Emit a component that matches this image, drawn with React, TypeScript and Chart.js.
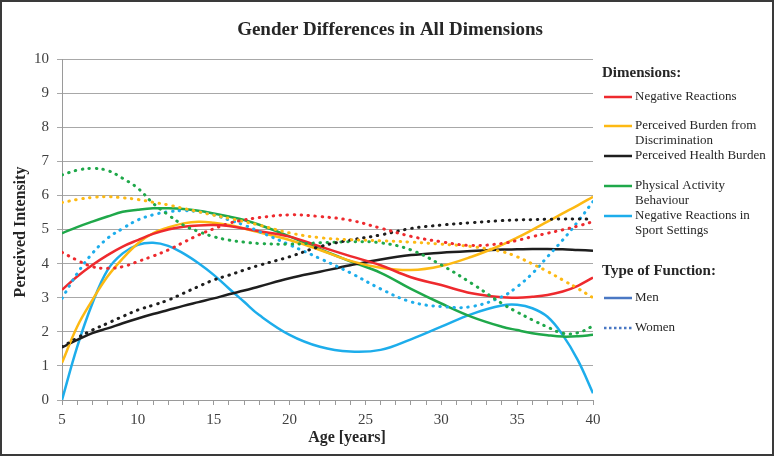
import React, { useEffect, useRef } from "react";
import { Chart, registerables } from "chart.js";

Chart.register(...registerables);

// ---- data ----
const ages = [5, 6, 7, 8, 9, 10, 11, 12, 13, 14, 15, 16, 17, 18, 20, 22, 24, 26, 28, 30, 32, 34, 35, 36, 37, 38, 39, 40];

const negativeReactionsMen = [3.23, 3.62, 3.96, 4.25, 4.5, 4.69, 4.87, 5.0, 5.08, 5.12, 5.13, 5.1, 5.03, 4.95, 4.79, 4.5, 4.22, 3.95, 3.6, 3.37, 3.13, 3.01, 3.0, 3.03, 3.08, 3.18, 3.35, 3.59];
const negativeReactionsWomen = [4.33, 4.1, 3.91, 3.86, 3.91, 4.06, 4.22, 4.4, 4.62, 4.84, 5.02, 5.18, 5.28, 5.35, 5.43, 5.38, 5.27, 5.04, 4.8, 4.64, 4.53, 4.59, 4.68, 4.79, 4.89, 4.99, 5.1, 5.23];
const burdenMen = [1.09, 2.15, 2.93, 3.62, 4.15, 4.59, 4.89, 5.06, 5.18, 5.23, 5.2, 5.13, 5.03, 4.92, 4.69, 4.4, 4.08, 3.88, 3.81, 3.93, 4.2, 4.55, 4.76, 4.99, 5.23, 5.47, 5.71, 5.96];
const burdenWomen = [5.79, 5.88, 5.94, 5.96, 5.93, 5.88, 5.8, 5.72, 5.62, 5.52, 5.42, 5.33, 5.23, 5.13, 4.9, 4.76, 4.7, 4.67, 4.63, 4.57, 4.5, 4.35, 4.2, 3.99, 3.77, 3.52, 3.27, 3.0];
const healthMen = [1.54, 1.76, 1.96, 2.1, 2.25, 2.39, 2.52, 2.64, 2.76, 2.87, 2.98, 3.1, 3.21, 3.33, 3.57, 3.76, 3.95, 4.12, 4.25, 4.32, 4.37, 4.41, 4.42, 4.43, 4.43, 4.42, 4.4, 4.38];
const healthWomen = [1.56, 1.82, 2.05, 2.25, 2.45, 2.64, 2.78, 2.93, 3.13, 3.33, 3.52, 3.66, 3.81, 3.95, 4.2, 4.5, 4.69, 4.84, 5.03, 5.13, 5.2, 5.26, 5.28, 5.29, 5.3, 5.31, 5.31, 5.3];
const activityMen = [4.89, 5.07, 5.23, 5.38, 5.52, 5.58, 5.62, 5.62, 5.6, 5.55, 5.47, 5.38, 5.28, 5.14, 4.8, 4.42, 4.07, 3.73, 3.26, 2.83, 2.44, 2.15, 2.05, 1.96, 1.9, 1.86, 1.87, 1.91];
const activityWomen = [6.6, 6.74, 6.79, 6.73, 6.5, 6.21, 5.77, 5.43, 5.13, 4.94, 4.79, 4.69, 4.63, 4.59, 4.57, 4.61, 4.64, 4.61, 4.4, 3.96, 3.42, 2.83, 2.58, 2.35, 2.14, 1.96, 1.97, 2.17];
const sportMen = [0.0, 1.56, 2.83, 3.81, 4.3, 4.55, 4.61, 4.52, 4.3, 4.01, 3.67, 3.27, 2.88, 2.49, 1.91, 1.56, 1.42, 1.47, 1.78, 2.15, 2.52, 2.77, 2.79, 2.69, 2.44, 1.91, 1.17, 0.2];
const sportWomen = [2.98, 3.71, 4.3, 4.74, 5.03, 5.28, 5.43, 5.52, 5.55, 5.52, 5.43, 5.28, 5.13, 4.94, 4.55, 4.15, 3.73, 3.26, 2.88, 2.74, 2.74, 3.03, 3.32, 3.71, 4.2, 4.69, 5.23, 5.82];

const dimensionLabels = [
  ["Negative Reactions"],
  ["Perceived Burden from", "Discrimination"],
  ["Perceived Health Burden"],
  ["Physical Activity", "Behaviour"],
  ["Negative Reactions in", "Sport Settings"],
];
const functionLabels = ["Men", "Women"];
const xLabelTicks = [5, 10, 15, 20, 25, 30, 35, 40];

const TITLE = "Gender Differences in All Dimensions";
const X_TITLE = "Age [years]";
const Y_TITLE = "Perceived Intensity";

// ---- styles ----
const COLORS = ["#EE2A2E", "#FDB913", "#1E1E1E", "#1FA84A", "#1DADEB"];
const FUNCTION_COLOR = "#4A78C4";
const SERIF = '"Liberation Serif", "Times New Roman", serif';

const seriesMen = [negativeReactionsMen, burdenMen, healthMen, activityMen, sportMen];
const seriesWomen = [negativeReactionsWomen, burdenWomen, healthWomen, activityWomen, sportWomen];

const toPoints = (vals: number[]) => vals.map((v, i) => ({ x: ages[i], y: v }));

const overlayPlugin = {
  id: "overlay",
  afterDraw(chart: any) {
    const ctx: CanvasRenderingContext2D = chart.ctx;
    ctx.save();
    // frame
    ctx.strokeStyle = "#3a3a3a";
    ctx.lineWidth = 2;
    ctx.strokeRect(1, 1, 772, 454);

    ctx.fillStyle = "#262626";
    ctx.textAlign = "center";
    ctx.textBaseline = "middle";
    ctx.font = `bold 19px ${SERIF}`;
    ctx.fillText(TITLE, 390, 30);

    ctx.font = `bold 16px ${SERIF}`;
    ctx.fillText(X_TITLE, 347, 438);
    ctx.save();
    ctx.translate(21, 232);
    ctx.rotate(-Math.PI / 2);
    ctx.fillText(Y_TITLE, 0, 0);
    ctx.restore();

    // legend
    ctx.textAlign = "left";
    ctx.font = `bold 15px ${SERIF}`;
    ctx.fillText("Dimensions:", 602, 73);
    ctx.fillText("Type of Function:", 602, 271);

    const itemY = [97, 126, 156, 186, 216];
    ctx.font = `13px ${SERIF}`;
    dimensionLabels.forEach((lines, i) => {
      const y = itemY[i];
      ctx.strokeStyle = COLORS[i];
      ctx.lineWidth = 2.5;
      ctx.setLineDash([]);
      ctx.beginPath();
      ctx.moveTo(604, y);
      ctx.lineTo(632, y);
      ctx.stroke();
      ctx.fillStyle = "#262626";
      lines.forEach((t, j) => ctx.fillText(t, 635, y + j * 15));
    });

    const fy = [298, 328];
    functionLabels.forEach((t, i) => {
      ctx.strokeStyle = FUNCTION_COLOR;
      ctx.lineWidth = 2.5;
      ctx.setLineDash(i === 0 ? [] : [2.5, 2.5]);
      ctx.beginPath();
      ctx.moveTo(604, fy[i]);
      ctx.lineTo(632, fy[i]);
      ctx.stroke();
      ctx.setLineDash([]);
      ctx.fillStyle = "#262626";
      ctx.fillText(t, 635, fy[i]);
    });
    ctx.restore();
  },
};

export default function App() {
  const ref = useRef<HTMLCanvasElement | null>(null);
  useEffect(() => {
    if (!ref.current) return;
    const datasets: any[] = [];
    seriesWomen.forEach((vals, i) => {
      datasets.push({
        label: dimensionLabels[i].join(" ") + " (Women)",
        data: toPoints(vals),
        borderColor: COLORS[i],
        borderWidth: 3,
        borderDash: [0.5, 6.5],
        borderCapStyle: "round",
        pointRadius: 0,
        tension: 0.4,
        fill: false,
      });
    });
    seriesMen.forEach((vals, i) => {
      datasets.push({
        label: dimensionLabels[i].join(" ") + " (Men)",
        data: toPoints(vals),
        borderColor: COLORS[i],
        borderWidth: 2.5,
        pointRadius: 0,
        tension: 0.4,
        fill: false,
      });
    });

    const chart = new Chart(ref.current, {
      type: "line",
      data: { datasets },
      plugins: [overlayPlugin],
      options: {
        animation: false,
        responsive: false,
        devicePixelRatio: 1,
        layout: { padding: { top: 59, right: 181, left: 0, bottom: 0 } },
        plugins: { legend: { display: false }, title: { display: false }, tooltip: { enabled: false } },
        scales: {
          x: {
            type: "linear",
            min: 5,
            max: 40,
            afterFit: (s: any) => { s.height = 56; },
            afterBuildTicks: (s: any) => {
              const t = [];
              for (let v = 5; v <= 40; v++) t.push({ value: v });
              s.ticks = t;
            },
            ticks: {
              autoSkip: false,
              maxRotation: 0,
              padding: 6,
              color: "#404040",
              font: { family: SERIF, size: 15 },
              callback: (v: any) => (xLabelTicks.includes(Number(v)) ? String(v) : ""),
            },
            grid: { drawOnChartArea: false, drawTicks: true, tickLength: 5, color: "#9a9a9a" },
            border: { display: true, color: "#9a9a9a", width: 1 },
          },
          y: {
            min: 0,
            max: 10,
            afterFit: (s: any) => { s.width = 62; },
            ticks: {
              stepSize: 1,
              padding: 8,
              color: "#404040",
              font: { family: SERIF, size: 15 },
            },
            grid: { color: "#a8a8a8", lineWidth: 1, tickLength: 5, drawTicks: true },
            border: { display: true, color: "#9a9a9a", width: 1 },
          },
        },
      },
    });
    return () => chart.destroy();
  }, []);

  return (
    <div style={{ position: "fixed", left: 0, top: 0, width: 774, height: 456, background: "#fff" }}>
      <canvas ref={ref} width={774} height={456} style={{ display: "block" }} />
    </div>
  );
}
